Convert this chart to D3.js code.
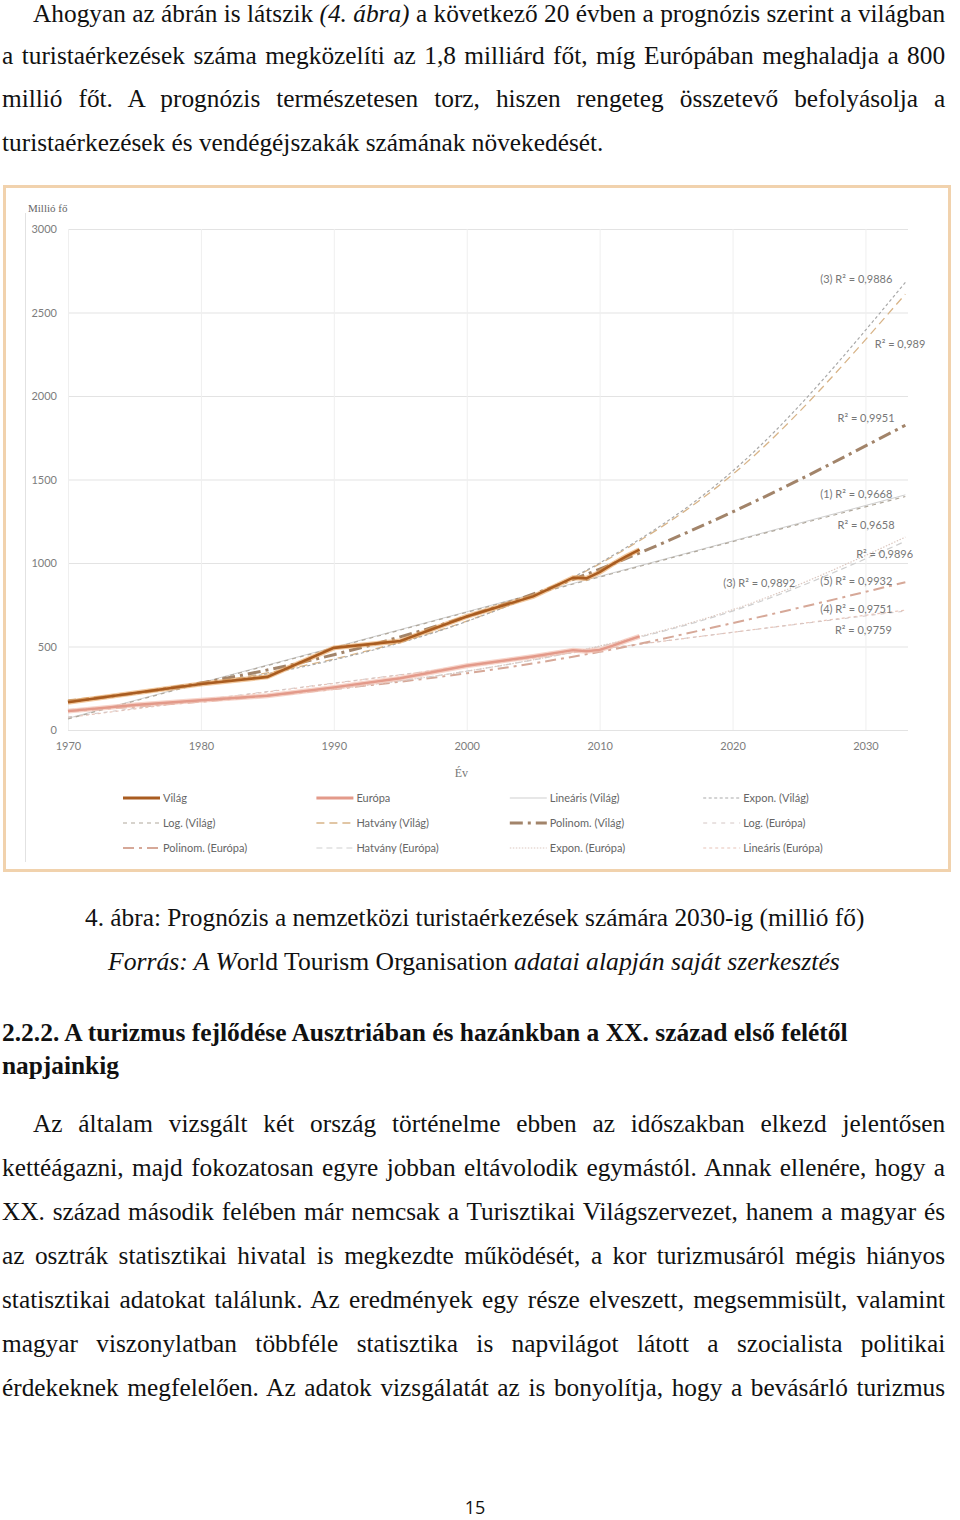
<!DOCTYPE html>
<html><head><meta charset="utf-8">
<script src="https://cdn.jsdelivr.net/npm/d3@7"></script>
<style>html,body{margin:0;padding:0;background:#fff;} svg{display:block;}</style>
</head><body>
<svg id="page" width="960" height="1520"></svg>
<script>
// ---------------- DATA ----------------
const worldYears  = [1970, 1975, 1980, 1985, 1990, 1995, 2000, 2005, 2008, 2009, 2010, 2011, 2012, 2013];
const worldValues = [166, 222, 275, 318, 492, 533, 680, 800, 912, 908, 945, 995, 1040, 1080];
const europeYears  = [1970, 1975, 1980, 1985, 1990, 1995, 2000, 2005, 2008, 2009, 2010, 2011, 2012, 2013];
const europeValues = [113, 150, 178, 205, 255, 310, 385, 440, 478, 472, 480, 505, 534, 560];

const trendYears     = [1970, 1980, 1990, 2000, 2010, 2020, 2033];
const exponVilag     = [175, 270, 420, 650, 1000, 1550, 2680];
const hatvanyVilag   = [180, 276, 425, 652, 995, 1530, 2610];
const polinomVilag   = [170, 282, 451, 679, 963, 1306, 1825];
const linearisVilag  = [70, 283, 495, 708, 920, 1132, 1408];
const logVilag       = [66, 280, 492, 705, 916, 1128, 1398];
const exponEuropa    = [120, 172, 246, 352, 503, 720, 1155];
const hatvanyEuropa  = [122, 174, 247, 352, 500, 712, 1130];
const polinomEuropa  = [112, 170, 245, 340, 468, 640, 885];
const linearisEuropa = [75, 177, 279, 381, 483, 585, 718];
const logEuropa      = [78, 180, 281, 382, 484, 585, 712];

const yTicks = [0, 500, 1000, 1500, 2000, 2500, 3000];
const xTicks = [1970, 1980, 1990, 2000, 2010, 2020, 2030];

const r2Labels = ["(3) R² = 0,9886", "R² = 0,989", "R² = 0,9951", "(1) R² = 0,9668", "R² = 0,9658",
                  "R² = 0,9896", "(3) R² = 0,9892", "(5) R² = 0,9932", "(4) R² = 0,9751", "R² = 0,9759"];
const r2Years  = [2026.6, 2030.7, 2027.9, 2026.6, 2027.9, 2029.3, 2019.3, 2026.6, 2026.6, 2027.7];
const r2Values = [2675, 2286, 1843, 1388, 1203, 1029, 856, 868, 700, 574];

const legendNames = ["Világ", "Európa", "Lineáris (Világ)", "Expon. (Világ)",
                     "Log. (Világ)", "Hatvány (Világ)", "Polinom. (Világ)", "Log. (Európa)",
                     "Polinom. (Európa)", "Hatvány (Európa)", "Expon. (Európa)", "Lineáris (Európa)"];

// ---------------- STYLES ----------------
const styles = {
  "Világ":            {c: "#a95c20", w: 3,   d: null},
  "Európa":           {c: "#e39a8a", w: 3,   d: null},
  "Lineáris (Világ)": {c: "#cfcfcf", w: 1,   d: null},
  "Expon. (Világ)":   {c: "#a9a9a9", w: 1.2, d: "3,2.5"},
  "Log. (Világ)":     {c: "#b0a89c", w: 1.2, d: "4,4"},
  "Hatvány (Világ)":  {c: "#d8b488", w: 1.3, d: "8,5"},
  "Polinom. (Világ)": {c: "#a2846a", w: 3,   d: "13,5,3,5"},
  "Log. (Európa)":    {c: "#d4c6c4", w: 1,   d: "4,5"},
  "Polinom. (Európa)":{c: "#d6a898", w: 2,   d: "11,5,3,5"},
  "Hatvány (Európa)": {c: "#cfcfcf", w: 1.2, d: "6,4"},
  "Expon. (Európa)":  {c: "#dcc8c0", w: 1.2, d: "1.5,1.5"},
  "Lineáris (Európa)":{c: "#e8c4b8", w: 1.2, d: "3,3"}
};

const svg = d3.select("#page");

// ---------------- PAGE TEXT ----------------
const SERIF = "'Times New Roman', Tinos, 'Liberation Serif', serif";
const BODY = 25;
let condense = 1;
function makeText(segs, o) {
  const t = svg.append("text").attr("x", o.x).attr("y", o.y)
    .style("font-family", SERIF).style("font-size", (o.size || BODY) + "px")
    .style("font-weight", o.weight || "normal").attr("fill", "#111");
  segs.forEach(s => t.append("tspan").style("font-style", s.i ? "italic" : "normal").text(s.t));
  return t;
}
function scaleAt(t, o, sx) {
  t.attr("transform", `translate(${o.x},${o.y}) scale(${sx},1) translate(${-o.x},${-o.y})`);
}
function textLine(segs, o) {
  const t = makeText(segs, o);
  const w = t.node().getComputedTextLength();
  const target = o.x2 - o.x;
  if (o.mode === "justify") {
    const full = segs.map(s => s.t).join("");
    const spaces = (full.match(/ /g) || []).length;
    const ws = (target / condense - w) / spaces;
    if (ws < -1) {
      scaleAt(t, o, target / w);
    } else {
      t.style("word-spacing", ws + "px");
      scaleAt(t, o, condense);
    }
  } else {
    scaleAt(t, o, target / w);
  }
}

// body condensation from the last (non-justified) line of paragraph 1
const probe = makeText([{t: "turistaérkezések és vendégéjszakák számának növekedését."}], {x: 2, y: 151});
condense = 602 / probe.node().getComputedTextLength();
probe.remove();

const para1 = [
  {segs: [{t: "Ahogyan az ábrán is látszik "}, {t: "(4. ábra)", i: true}, {t: " a következő 20 évben a prognózis szerint a világban"}], x: 33, x2: 946, y: 22, mode: "justify"},
  {segs: [{t: "a turistaérkezések száma megközelíti az 1,8 milliárd főt, míg Európában meghaladja a 800"}], x: 2, x2: 946, y: 64, mode: "justify"},
  {segs: [{t: "millió főt. A prognózis természetesen torz, hiszen rengeteg összetevő befolyásolja a"}], x: 2, x2: 946, y: 107, mode: "justify"},
  {segs: [{t: "turistaérkezések és vendégéjszakák számának növekedését."}], x: 2, x2: 604, y: 151, mode: "fit"}
];
para1.forEach(l => textLine(l.segs, l));

textLine([{t: "4. ábra: Prognózis a nemzetközi turistaérkezések számára 2030-ig (millió fő)"}], {x: 85, x2: 865, y: 926, mode: "fit"});
textLine([{t: "Forrás: A W", i: true}, {t: "orld Tourism Organisation "}, {t: "adatai alapján saját szerkesztés", i: true}], {x: 108, x2: 840, y: 970, mode: "fit"});

textLine([{t: "2.2.2. A turizmus fejlődése Ausztriában és hazánkban a XX. század első felétől"}], {x: 2, x2: 848, y: 1041, mode: "fit", weight: "bold"});
textLine([{t: "napjainkig"}], {x: 2, x2: 119, y: 1074, mode: "fit", weight: "bold"});

const para2 = [
  "Az általam vizsgált két ország történelme ebben az időszakban elkezd jelentősen",
  "kettéágazni, majd fokozatosan egyre jobban eltávolodik egymástól. Annak ellenére, hogy a",
  "XX. század második felében már nemcsak a Turisztikai Világszervezet, hanem a magyar és",
  "az osztrák statisztikai hivatal is megkezdte működését, a kor turizmusáról mégis hiányos",
  "statisztikai adatokat találunk. Az eredmények egy része elveszett, megsemmisült, valamint",
  "magyar viszonylatban többféle statisztika is napvilágot látott a szocialista politikai",
  "érdekeknek megfelelően. Az adatok vizsgálatát az is bonyolítja, hogy a bevásárló turizmus"
];
para2.forEach((s, i) => textLine([{t: s}], {x: i === 0 ? 33 : 2, x2: 946, y: 1132 + i * 44, mode: "justify"}));

svg.append("text").attr("x", 475).attr("y", 1514).attr("text-anchor", "middle")
  .style("font-family", "Open Sans").style("font-size", "18px").attr("fill", "#111").text("15");

// ---------------- CHART ----------------
const chart = svg.append("g");
chart.append("rect").attr("x", 4.5).attr("y", 186.5).attr("width", 945).attr("height", 684)
  .attr("fill", "#fff").attr("stroke", "#f1d2ad").attr("stroke-width", 3);
chart.append("line").attr("x1", 25.5).attr("x2", 25.5).attr("y1", 213).attr("y2", 862)
  .attr("stroke", "#e2e2e2").attr("stroke-width", 1);

const x = d3.scaleLinear().domain([1970, 2033.2]).range([68, 908]);
const y = d3.scaleLinear().domain([0, 3000]).range([730, 229]);
const SANS = "Lato";

const yAxis = chart.append("g").attr("transform", `translate(${x(1970)},0)`)
  .call(d3.axisLeft(y).tickValues(yTicks).tickFormat(d3.format("d"))
    .tickSize(-(x.range()[1] - x.range()[0])).tickPadding(11));
yAxis.select(".domain").remove();
yAxis.selectAll("line").attr("stroke", "#e3e3e3").attr("stroke-width", 1.2);
yAxis.selectAll("text").attr("fill", "#7d7d7d").style("font-family", SANS).style("font-size", "11px");

const xAxis = chart.append("g").attr("transform", `translate(0,${y(0)})`)
  .call(d3.axisBottom(x).tickValues(xTicks).tickFormat(d3.format("d"))
    .tickSize(-(y(0) - y(3000))).tickPadding(12));
xAxis.select(".domain").remove();
xAxis.selectAll("line").attr("stroke", "#efefef").attr("stroke-width", 1);
xAxis.selectAll("text").attr("fill", "#7d7d7d").style("font-family", SANS).style("font-size", "11px");

chart.append("text").attr("x", 28).attr("y", 212).style("font-family", SERIF).style("font-size", "11px")
  .attr("fill", "#666").text("Millió fő");
chart.append("text").attr("x", x(1999.6)).attr("y", 777).attr("text-anchor", "middle").style("font-family", SERIF)
  .style("font-size", "12px").attr("fill", "#777").text("Év");

const line = d3.line().x(d => x(d[0])).y(d => y(d[1])).curve(d3.curveMonotoneX);
const trendSeries = [
  ["Lineáris (Európa)", linearisEuropa], ["Log. (Európa)", logEuropa], ["Polinom. (Európa)", polinomEuropa],
  ["Hatvány (Európa)", hatvanyEuropa], ["Expon. (Európa)", exponEuropa],
  ["Lineáris (Világ)", linearisVilag], ["Log. (Világ)", logVilag],
  ["Hatvány (Világ)", hatvanyVilag], ["Expon. (Világ)", exponVilag], ["Polinom. (Világ)", polinomVilag]
];
trendSeries.forEach(([name, vals]) => {
  const s = styles[name];
  chart.append("path").datum(trendYears.map((yr, i) => [yr, vals[i]]))
    .attr("d", line).attr("fill", "none").attr("stroke", s.c).attr("stroke-width", s.w)
    .attr("stroke-dasharray", s.d);
});

const dataLine = d3.line().x(d => x(d[0])).y(d => y(d[1]));
const eu = europeYears.map((yr, i) => [yr, europeValues[i]]);
const wo = worldYears.map((yr, i) => [yr, worldValues[i]]);
chart.append("path").datum(eu).attr("d", dataLine).attr("fill", "none").attr("stroke", "#f3c2b4").attr("stroke-width", 5).attr("opacity", 0.7);
chart.append("path").datum(eu).attr("d", dataLine).attr("fill", "none").attr("stroke", styles["Európa"].c).attr("stroke-width", 2.4);
chart.append("path").datum(wo).attr("d", dataLine).attr("fill", "none").attr("stroke", "#eaa45e").attr("stroke-width", 5).attr("opacity", 0.6);
chart.append("path").datum(wo).attr("d", dataLine).attr("fill", "none").attr("stroke", styles["Világ"].c).attr("stroke-width", 2.6);

// R² labels
chart.selectAll("text.r2").data(r2Labels).enter().append("text").attr("class", "r2")
  .attr("x", (d, i) => x(r2Years[i])).attr("y", (d, i) => y(r2Values[i]))
  .style("font-family", SANS).style("font-size", "11px").attr("fill", "#777").text(d => d);

// legend
const leg = chart.append("g");
legendNames.forEach((name, i) => {
  const col = i % 4, row = Math.floor(i / 4);
  const lx = 123 + col * 193.4, ly = 798 + row * 25;
  const s = styles[name];
  leg.append("line").attr("x1", lx).attr("x2", lx + 37).attr("y1", ly).attr("y2", ly)
    .attr("stroke", s.c).attr("stroke-width", s.w).attr("stroke-dasharray", s.d);
  leg.append("text").attr("x", lx + 40).attr("y", ly + 4).style("font-family", SANS)
    .style("font-size", "11px").attr("fill", "#666").text(name);
});
</script>
</body></html>
